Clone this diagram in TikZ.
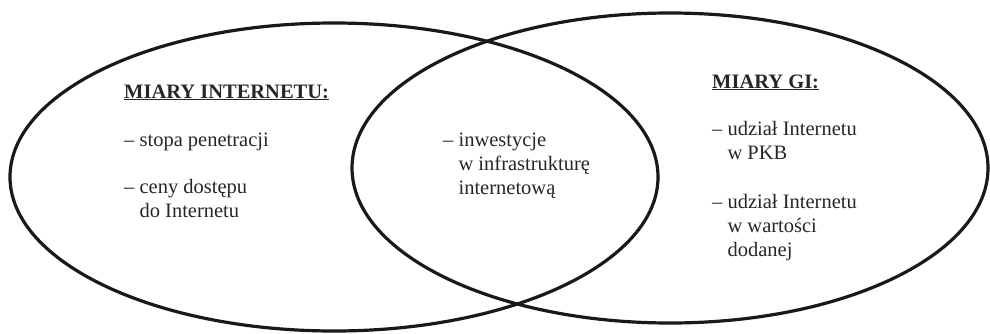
\documentclass[tikz,border=0pt]{standalone}
\usepackage{fontspec}
\setmainfont{Liberation Serif}
\usetikzlibrary{shapes.geometric}
\tikzset{
  venn/.style={ellipse, draw=black!90, line width=3.2pt, inner sep=0pt, fill=none},
  txt/.style={anchor=base west, inner sep=0pt, text=black!85,
    font=\fontsize{20.5}{23.8}\selectfont},
  head/.style={txt, font=\fontsize{20.5}{23.8}\selectfont\bfseries}
}
\newcommand{\ind}{\phantom{– }}
\begin{document}
\begin{tikzpicture}[x=1pt,y=-1pt]
\useasboundingbox (0,0) rectangle (990,333);
\node[venn, minimum width=648pt, minimum height=308pt] (L) at (334,177) {};
\node[venn, minimum width=636pt, minimum height=310pt] (R) at (670,168) {};
\node[head] (h1) at (124,98) {\underline{MIARY INTERNETU:}};
\node[txt] (a1) at (124,146) {– stopa penetracji};
\node[txt] (a2) at (124,193) {– ceny dostępu};
\node[txt] (a3) at (124,217) {\ind do Internetu};
\node[txt] (m1) at (443,146) {– inwestycje};
\node[txt] (m2) at (443,170) {\ind w infrastrukturę};
\node[txt] (m3) at (443,194) {\ind internetową};
\node[head] (h2) at (712,88) {\underline{MIARY GI:}};
\node[txt] (b1) at (712,135) {– udział Internetu};
\node[txt] (b2) at (712,159) {\ind w PKB};
\node[txt] (b3) at (712,208) {– udział Internetu};
\node[txt] (b4) at (712,232) {\ind w wartości};
\node[txt] (b5) at (712,256) {\ind dodanej};
\end{tikzpicture}
\end{document}
